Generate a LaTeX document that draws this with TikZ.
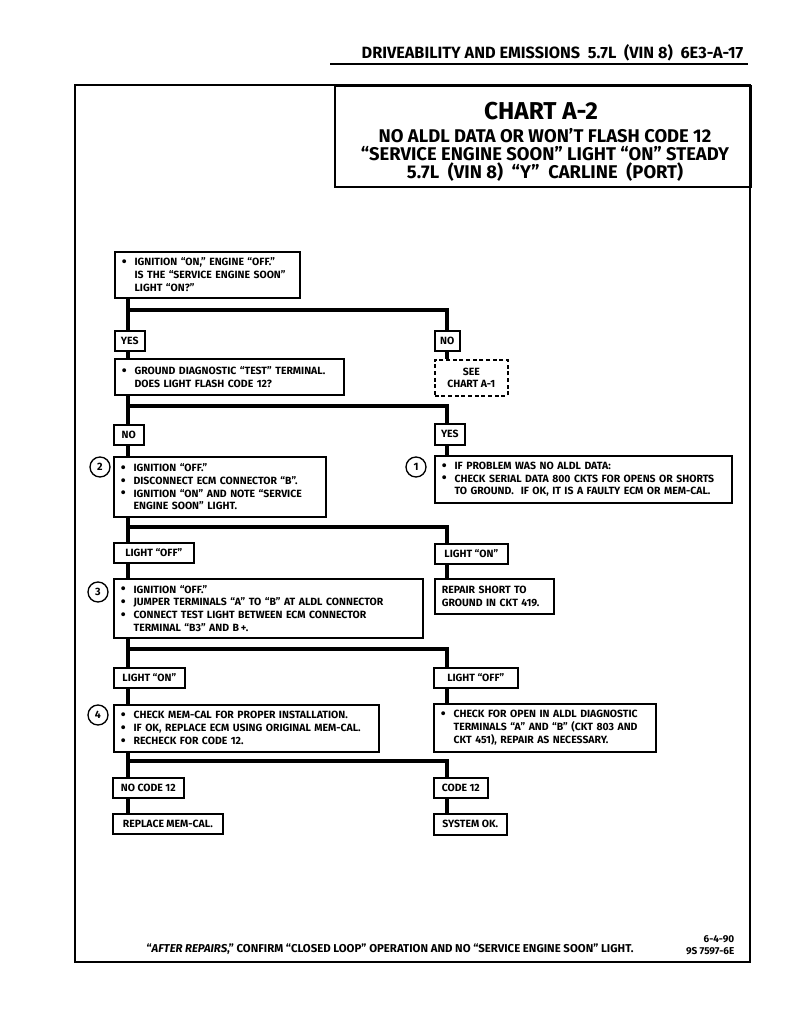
\documentclass[tikz,border=0pt]{standalone}
\usepackage{fontspec}
\setmainfont{Fira Sans}
\newcommand\bul{\makebox[9.6pt][l]{\raisebox{-0.6pt}{\fontsize{10.5}{0}\selectfont\textbullet}}}
\newcommand\ind{\hspace*{9.6pt}}
\newcommand\bi[1]{\mbox{\bul #1}}
\newcommand\ci[1]{\mbox{\ind #1}}
\begin{document}
\begin{tikzpicture}[x=0.75pt,y=-0.75pt,line join=miter,
  every node/.style={font=\bfseries\fontsize{7.85}{9.6}\selectfont},
  box/.style 2 args={draw, fill=white, line width=1.2pt, anchor=north west, inner xsep=0pt, inner ysep=0pt,
     minimum width={#1*0.75pt}, minimum height={#2*0.75pt}, text width={(#1-14)*0.75pt}, align=left},
  lbl/.style 2 args={draw, fill=white, line width=1.2pt, anchor=north west, inner sep=0pt,
     minimum width={#1*0.75pt}, minimum height={#2*0.75pt}, align=center},
  dbox/.style 2 args={lbl={#1}{#2}, dash pattern=on 3pt off 2pt},
  trunk/.style={line width=3pt},
  circ/.style={draw, circle, line width=1pt, minimum size={20*0.75pt}, inner sep=0pt,
     font=\bfseries\fontsize{8}{9}\selectfont}
]
\fill[white] (0,0) rectangle (791,1024);
\useasboundingbox (0,0) rectangle (791,1024);

% header
\node[anchor=base east, font=\bfseries\fontsize{12.2}{14}\selectfont] (hdr) at (748,59)
  {DRIVEABILITY AND EMISSIONS\ \ 5.7L\ \ (VIN 8)\ \ 6E3-A-17};
\draw[line width=1.6pt] (330,64) -- (748,64);

% frame
\draw[line width=1.6pt] (75,85) rectangle (750,962);

% title box
\node[draw, line width=1.5pt, anchor=north west, inner sep=0pt,
  minimum width={(750-334)*0.75pt}, minimum height={(186-85)*0.75pt}] (tbox) at (334,85) {};
\node[font=\bfseries\fontsize{18.3}{20}\selectfont] (ttl) at (541,111) {CHART A-2};
\node[align=center, font=\bfseries\fontsize{13.8}{13.4}\selectfont] (sub) at (545,155)
  {NO ALDL DATA OR WON’T FLASH CODE 12\\
   “SERVICE ENGINE SOON” LIGHT “ON” STEADY\\
   5.7L\ \ (VIN 8)\ \ “Y”\ \ CARLINE\ \ (PORT)};

\coordinate (L) at (128,0);
\coordinate (R) at (447,0);

% boxes
\node[box={185}{46}] (b1) at (114,251)
  {\bi{IGNITION “ON,” ENGINE “OFF.”}\\ \ci{IS THE “SERVICE ENGINE SOON”}\\ \ci{LIGHT “ON?”}};
\node[lbl={30}{20}] (yes1) at (114,330) {YES};
\node[lbl={25}{20}] (no1) at (434,330) {NO};
\node[box={229}{36}] (b2) at (114,358)
  {\bi{GROUND DIAGNOSTIC “TEST” TERMINAL.}\\ \ci{DOES LIGHT FLASH CODE 12?}};
\node[dbox={73}{36}] (see) at (434,359) {SEE\\CHART A-1};

\node[lbl={30}{20}] (no2) at (113,424) {NO};
\node[lbl={30}{21}] (yes2) at (434,423) {YES};
\node[box={212}{60}] (b3) at (113,456)
  {\bi{IGNITION “OFF.”}\\ \bi{DISCONNECT ECM CONNECTOR “B”.}\\ \bi{IGNITION “ON” AND NOTE “SERVICE}\\ \ci{ENGINE SOON” LIGHT.}};
\node[box={297}{47}] (b4) at (434,455)
  {\bi{IF PROBLEM WAS NO ALDL DATA:}\\ \bi{CHECK SERIAL DATA 800 CKTS FOR OPENS OR SHORTS}\\ \ci{TO GROUND.\ \ IF OK, IT IS A FAULTY ECM OR MEM-CAL.}};
\node[circ] (n2) at (100,467) {2};
\node[circ] (n1) at (416,467) {1};

\node[lbl={80}{20}] (off3) at (113,542) {LIGHT “OFF”};
\node[lbl={73}{20}] (on3) at (434,543) {LIGHT “ON”};
\node[box={309}{59}] (b5) at (113,578)
  {\bi{IGNITION “OFF.”}\\ \bi{JUMPER TERMINALS “A” TO “B” AT ALDL CONNECTOR}\\ \bi{CONNECT TEST LIGHT BETWEEN ECM CONNECTOR}\\ \ci{TERMINAL “B3” AND B\,+.}};
\node[box={119}{35}] (rep) at (434,578) {REPAIR SHORT TO\\GROUND IN CKT 419.};
\node[circ] (n3) at (98,592) {3};

\node[lbl={71}{20}] (on4) at (113,667) {LIGHT “ON”};
\node[lbl={84}{20}] (off4) at (433,667) {LIGHT “OFF”};
\node[box={265}{47}] (b6) at (113,704)
  {\bi{CHECK MEM-CAL FOR PROPER INSTALLATION.}\\ \bi{IF OK, REPLACE ECM USING ORIGINAL MEM-CAL.}\\ \bi{RECHECK FOR CODE 12.}};
\node[box={222}{48}] (b7) at (433,703)
  {\bi{CHECK FOR OPEN IN ALDL DIAGNOSTIC}\\ \ci{TERMINALS “A” AND “B” (CKT 803 AND}\\ \ci{CKT 451), REPAIR AS NECESSARY.}};
\node[circ] (n4) at (98,715) {4};

\node[lbl={71}{20}] (nc) at (112,777) {NO CODE 12};
\node[lbl={110}{20}] (rm) at (112,813) {REPLACE MEM-CAL.};
\node[lbl={54}{20}] (c12) at (433,777) {CODE 12};
\node[lbl={73}{21}] (ok) at (433,813) {SYSTEM OK.};

% connectors
\coordinate (j1) at (128,310);
\coordinate (j2) at (128,406);
\coordinate (j3) at (128,527);
\coordinate (j4) at (128,649);
\coordinate (j5) at (128,761);
\draw[trunk] (b1.south -| L) -- (yes1.north -| L);
\draw[trunk] (j1) -| (no1.north -| R);
\draw[trunk] (yes1.south -| L) -- (b2.north -| L);
\draw[trunk] (no1.south -| R) -- (see.north -| R);

\draw[trunk] (b2.south -| L) -- (no2.north -| L);
\draw[trunk] (j2) -| (yes2.north -| R);
\draw[trunk] (no2.south -| L) -- (b3.north -| L);
\draw[trunk] (yes2.south -| R) -- (b4.north -| R);

\draw[trunk] (b3.south -| L) -- (off3.north -| L);
\draw[trunk] (j3) -| (on3.north -| R);
\draw[trunk] (off3.south -| L) -- (b5.north -| L);
\draw[trunk] (on3.south -| R) -- (rep.north -| R);

\draw[trunk] (b5.south -| L) -- (on4.north -| L);
\draw[trunk] (j4) -| (off4.north -| R);
\draw[trunk] (on4.south -| L) -- (b6.north -| L);
\draw[trunk] (off4.south -| R) -- (b7.north -| R);

\draw[trunk] (b6.south -| L) -- (nc.north -| L);
\draw[trunk] (j5) -| (c12.north -| R);
\draw[trunk] (nc.south -| L) -- (rm.north -| L);
\draw[trunk] (c12.south -| R) -- (ok.north -| R);

% footer
\node[anchor=base, font=\bfseries\fontsize{8.55}{9}\selectfont] (foot) at (390,952)
  {“\textit{AFTER REPAIRS},” CONFIRM “CLOSED LOOP” OPERATION AND NO “SERVICE ENGINE SOON” LIGHT.};
\node[anchor=east, align=right, font=\bfseries\fontsize{7.5}{9}\selectfont] (code) at (739,945)
  {6-4-90\\9S 7597-6E};
\end{tikzpicture}
\end{document}
